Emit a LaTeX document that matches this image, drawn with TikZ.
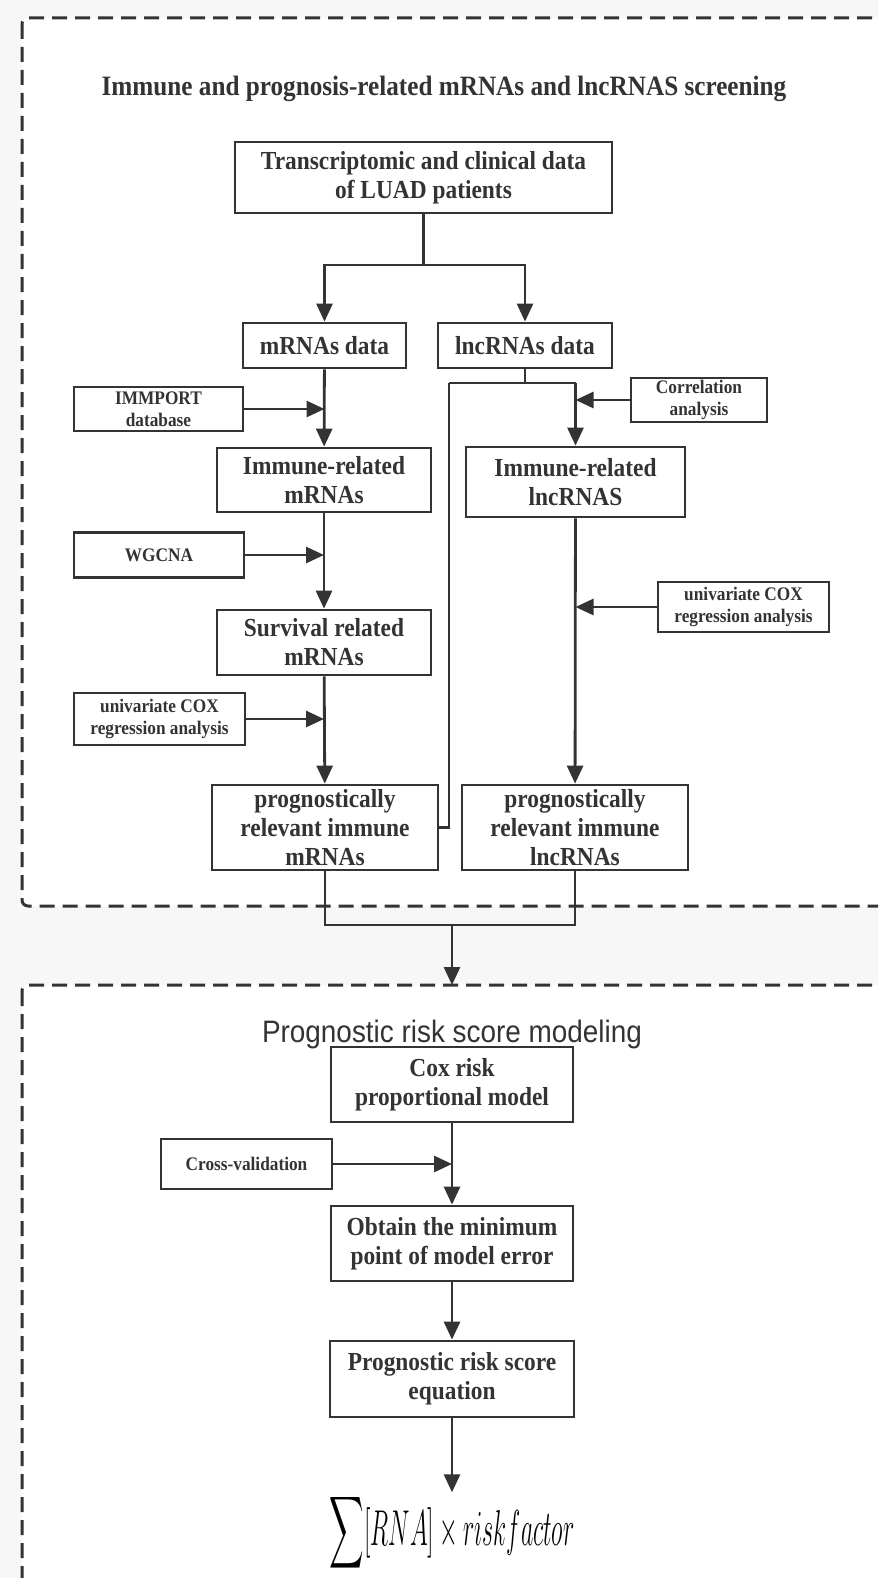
\documentclass[tikz,border=0pt]{standalone}
\usepackage{fontspec}
\setmainfont{Liberation Serif}[FakeStretch=0.9]
\newfontfamily\titlesans{Liberation Sans}[FakeStretch=0.9]
\usepackage{amsmath}
\usepackage{graphicx}
\usetikzlibrary{arrows.meta}
\definecolor{ink}{HTML}{333333}
\definecolor{paper}{HTML}{F7F7F7}
\tikzset{
  box/.style={rectangle,draw=ink,line width=1.4pt,fill=white,text=ink,
    align=center,font=\bfseries\fontsize{13}{14.5}\selectfont,inner sep=0pt},
  side/.style={box,font=\bfseries\fontsize{9.6}{11}\selectfont},
  ar/.style={-{Triangle[length=9pt,width=8pt]},line width=1.4pt,draw=ink},
  ln/.style={line width=1.4pt,draw=ink},
  frame/.style={draw=ink,line width=1.5pt,dash pattern=on 7.5pt off 4pt,
    fill=white,rounded corners=3pt}
}

\begin{document}
\begin{tikzpicture}[x=0.5pt,y=-0.5pt]
\fill[paper] (0,0) rectangle (878,1578);
\useasboundingbox (0,0) rectangle (878,1578);
\clip (0,0) rectangle (878,1578);

% two dashed sections
\draw[frame] (22,18) rectangle (900,906);
\draw[frame] (22,985) rectangle (900,1620);
\node[text=ink,font=\bfseries\fontsize{14}{16}\selectfont] (scrtitle) at (444,89)
  {Immune and prognosis-related mRNAs and lncRNAS screening};
\node[text=ink,font=\titlesans\fontsize{15.5}{18}\selectfont] (modtitle) at (452,1034)
  {Prognostic risk score modeling};

% screening part
\node[box,minimum width=188.5pt,minimum height=35.5pt] (trans) at (423.5,177.5)
  {Transcriptomic and clinical data\\of LUAD patients};
\node[box,minimum width=81.5pt,minimum height=22.5pt] (mdata) at (324.5,345.5) {mRNAs data};
\node[box,minimum width=87pt,minimum height=22.5pt] (ldata) at (525,345.5) {lncRNAs data};

\node[side,minimum width=84.5pt,minimum height=22pt] (immport) at (158.5,409) {IMMPORT\\database};
\node[box,minimum width=107pt,minimum height=32pt] (immm) at (324,480) {Immune-related\\mRNAs};
\node[side,minimum width=85pt,minimum height=22.5pt] (wgcna) at (159,555) {WGCNA};
\node[box,minimum width=107pt,minimum height=32.5pt] (survm) at (324,642.5) {Survival related\\mRNAs};
\node[side,minimum width=85.5pt,minimum height=26pt] (coxm) at (159.5,719)
  {univariate COX\\regression analysis};
\node[box,minimum width=113pt,minimum height=42.5pt] (progm) at (325,827.5)
  {prognostically\\relevant immune\\mRNAs};

\node[side,minimum width=68pt,minimum height=22pt] (corr) at (699,400) {Correlation\\analysis};
\node[box,minimum width=109.5pt,minimum height=35pt] (imml) at (575.5,482) {Immune-related\\lncRNAS};
\node[side,minimum width=85.5pt,minimum height=25pt] (coxl) at (743.5,607)
  {univariate COX\\regression analysis};
\node[box,minimum width=113pt,minimum height=42.5pt] (progl) at (575,827.5)
  {prognostically\\relevant immune\\lncRNAs};

\coordinate (split) at (423.5,265);
\coordinate (lsplit) at (525,383);
\coordinate (lleft) at (449,383);
\coordinate (lright) at (575.5,383);
\coordinate (merge) at (452,925);
\coordinate (lowtop) at (452,985);

\draw[ln] (trans.south) -- (split);
\draw[ar] (split) -| (mdata.north);
\draw[ar] (split) -| (ldata.north);

\draw[ar] (mdata) -- (immm);
\draw[ar] (immport.east) -- (immport.east -| mdata.south);
\draw[ar] (immm) -- (survm);
\draw[ar] (wgcna.east) -- (wgcna.east -| immm.south);
\draw[ar] (survm) -- (progm);
\draw[ar] (coxm.east) -- (coxm.east -| survm.south);

\draw[ln] (ldata.south) -- (lsplit);
\draw[ln] (lleft) -- (lright);
\draw[ln] (lleft) |- (progm.east);
\draw[ar] (lright) -- (imml.north);
\draw[ar] (corr.west) -- (corr.west -| imml.north);
\draw[ar] (imml) -- (progl);
\draw[ar] (coxl.west) -- (coxl.west -| imml.south);

\draw[ln] (progm.south) |- (merge);
\draw[ln] (progl.south) |- (merge);
\draw[ar] (merge) -- (lowtop);

% modeling part
\node[box,minimum width=121pt,minimum height=37.5pt] (coxrisk) at (452,1084.5)
  {Cox risk\\proportional model};
\node[side,minimum width=85.5pt,minimum height=25pt] (cv) at (246.5,1164) {Cross-validation};
\node[box,minimum width=121pt,minimum height=37.5pt] (obtain) at (452,1243.5)
  {Obtain the minimum\\point of model error};
\node[box,minimum width=122pt,minimum height=38pt] (eqn) at (452,1379)
  {Prognostic risk score\\equation};
\node[inner sep=0pt,font=\fontsize{12.5}{15}\selectfont] (formula) at (452,1533)
  {\scalebox{1}[2.1]{$\displaystyle\sum[RNA]\times riskfactor$}};

\draw[ar] (coxrisk) -- (obtain);
\draw[ar] (cv.east) -- (cv.east -| coxrisk.south);
\draw[ar] (obtain) -- (eqn);
\draw[ar] (eqn.south) -- (formula.north);
\end{tikzpicture}
\end{document}
